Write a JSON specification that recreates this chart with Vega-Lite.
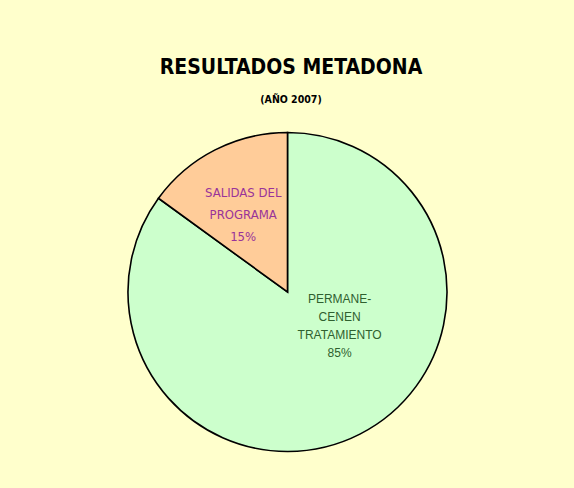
{
  "$schema": "https://vega.github.io/schema/vega-lite/v6.json",
  "autosize": "none",
  "width": 319,
  "height": 320,
  "padding": {"left": 128, "top": 132, "right": 127, "bottom": 36},
  "background": "#FFFFCC",
  "config": {"view": {"stroke": null}},
  "title": {
    "text": "RESULTADOS METADONA",
    "subtitle": "(AÑO 2007)",
    "anchor": "middle",
    "frame": "group",
    "dx": 3.5,
    "offset": 24,
    "font": "DejaVu Sans Condensed, sans-serif",
    "fontSize": 21,
    "fontWeight": "bold",
    "color": "#000000",
    "subtitleFont": "DejaVu Sans Condensed, sans-serif",
    "subtitleFontSize": 10.5,
    "subtitleFontWeight": "bold",
    "subtitleColor": "#000000",
    "subtitlePadding": 17
  },
  "data": {
    "values": [
      {"category": "PERMANECEN", "value": 85, "label": "PERMANE-\nCENEN\nTRATAMIENTO\n85%"},
      {"category": "SALIDAS", "value": 15, "label": "SALIDAS DEL\nPROGRAMA\n15%"}
    ]
  },
  "encoding": {
    "theta": {"field": "value", "type": "quantitative", "stack": true},
    "order": {"field": "value", "type": "quantitative", "sort": "descending"}
  },
  "layer": [
    {
      "mark": {"type": "arc", "stroke": "#000000", "strokeWidth": 1.6},
      "encoding": {
        "color": {
          "field": "category",
          "type": "nominal",
          "scale": {"domain": ["PERMANECEN", "SALIDAS"], "range": ["#CCFFCC", "#FFCC99"]},
          "legend": null
        }
      }
    },
    {
      "mark": {
        "type": "text",
        "radius": 89,
        "thetaOffset": -0.05,
        "dy": -22,
        "align": "center",
        "baseline": "middle",
        "lineBreak": "\n",
        "lineHeight": 22,
        "font": "DejaVu Sans Condensed, sans-serif",
        "fontSize": 13,
        "color": "#993399"
      },
      "encoding": {
        "text": {"condition": {"test": "datum.category === 'SALIDAS'", "field": "label"}, "value": ""}
      }
    },
    {
      "mark": {
        "type": "text",
        "radius": 62,
        "thetaOffset": -0.527,
        "dy": -27,
        "align": "center",
        "baseline": "middle",
        "lineBreak": "\n",
        "lineHeight": 18,
        "font": "Liberation Sans, Arial, sans-serif",
        "fontSize": 12,
        "color": "#2F602F"
      },
      "encoding": {
        "text": {"condition": {"test": "datum.category === 'PERMANECEN'", "field": "label"}, "value": ""}
      }
    }
  ]
}
